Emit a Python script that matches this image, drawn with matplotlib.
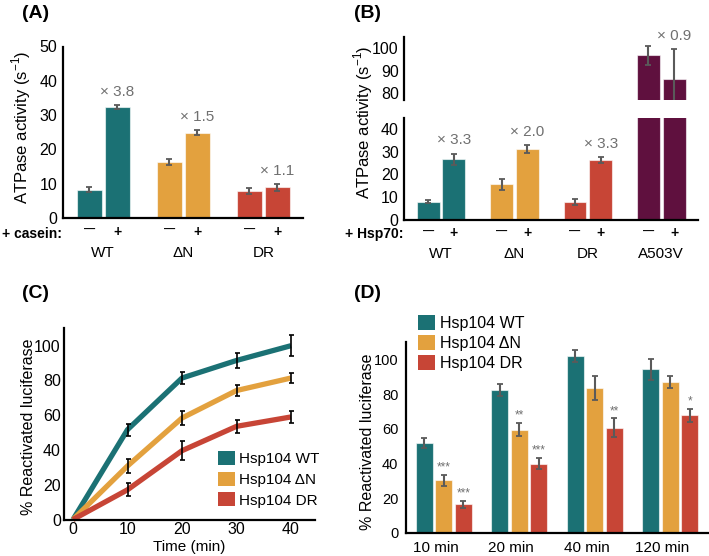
import matplotlib
matplotlib.use("Agg")
import matplotlib.pyplot as plt
from matplotlib.patches import Patch
import numpy as np

plt.rcParams['font.family'] = ['Liberation Sans', 'DejaVu Sans']
plt.rcParams['mathtext.fontset'] = 'custom'
plt.rcParams['mathtext.rm'] = 'Liberation Sans'

# ---------------- data ----------------
TEAL, ORANGE, RED, PURPLE = "#1B7174", "#E3A13E", "#C74536", "#5F103E"
ERR_GRAY = "#5a5a5a"
TXT_GRAY = "#707070"

A_groups = ["WT", "ΔN", "DR"]
A_minus = [8.3, 16.3, 7.8]
A_plus = [32.4, 24.9, 8.9]
A_minus_err = [0.7, 0.9, 0.9]
A_plus_err = [0.6, 0.8, 1.0]
A_fold = ["× 3.8", "× 1.5", "× 1.1"]
A_colors = [TEAL, ORANGE, RED]

B_groups = ["WT", "ΔN", "DR", "A503V"]
B_minus = [7.8, 15.5, 7.7, 96.7]
B_plus = [26.5, 31.2, 26.1, 86.4]
B_minus_err = [0.6, 2.5, 1.4, 4.1]
B_plus_err = [2.6, 1.8, 1.3, 13.2]
B_fold = ["× 3.3", "× 2.0", "× 3.3", "× 0.9"]
B_colors = [TEAL, ORANGE, RED, PURPLE]

C_time = [0, 10, 20, 30, 40]
C_wt = [0, 51.7, 81.4, 91.5, 100.0]
C_dn = [0, 30.8, 58.4, 74.2, 81.4]
C_dr = [0, 17.1, 39.6, 53.6, 59.0]
C_wt_err = [0, 3.5, 3.6, 4.3, 5.9]
C_dn_err = [0, 3.8, 4.2, 3.4, 3.1]
C_dr_err = [0, 3.8, 5.4, 3.7, 3.6]

series_labels = ["Hsp104 WT", "Hsp104 ΔN", "Hsp104 DR"]

D_labels = ["10 min", "20 min", "40 min", "120 min"]
D_wt = [51.8, 82.5, 102.3, 94.4]
D_dn = [30.3, 59.5, 83.5, 87.1]
D_dr = [16.6, 40.0, 60.8, 67.9]
D_wt_err = [2.9, 3.6, 3.4, 6.0]
D_dn_err = [3.1, 3.8, 7.0, 3.2]
D_dr_err = [1.9, 3.2, 5.3, 3.8]
D_dn_stars = ["***", "**", "", ""]
D_dr_stars = ["***", "***", "**", "*"]

# ---------------- figure ----------------
W, H = 709, 556
fig = plt.figure(figsize=(W / 100, H / 100), dpi=100)


def ax_px(left, right, top, bottom):
    return fig.add_axes([left / W, 1 - bottom / H, (right - left) / W, (bottom - top) / H])


def style(ax, pad=3, fs=11.5, bottom=True):
    for s in ["top", "right"]:
        ax.spines[s].set_visible(False)
    ax.spines["left"].set_linewidth(1.6)
    ax.spines["bottom"].set_linewidth(1.6)
    if not bottom:
        ax.spines["bottom"].set_visible(False)
    ax.tick_params(length=0, labelsize=fs, pad=pad)


def fig_text(x, y, s, **kw):
    fig.text(x / W, 1 - y / H, s, **kw)


BW = 0.31
OFF = 0.175
EDGE = (1, 1, 1, 0.6)


def pair_bars(ax, groups, minus, plus, merr, perr, colors):
    x = np.arange(len(groups))
    ax.bar(x - OFF, minus, BW, color=colors, edgecolor=EDGE, linewidth=0.8, zorder=2)
    ax.bar(x + OFF, plus, BW, color=colors, edgecolor=EDGE, linewidth=0.8, zorder=2)
    ax.errorbar(x - OFF, minus, yerr=merr, fmt="none", ecolor=ERR_GRAY, elinewidth=1.5,
                capsize=2, capthick=1.3, zorder=3)
    ax.errorbar(x + OFF, plus, yerr=perr, fmt="none", ecolor=ERR_GRAY, elinewidth=1.5,
                capsize=2, capthick=1.3, zorder=3)
    return x


def pm_ticks(ax, n):
    x = np.arange(n)
    pos = np.ravel(np.column_stack([x - OFF, x + OFF]))
    ax.set_xticks(pos)
    labs = ax.set_xticklabels(["—", "+"] * n, fontweight="bold", fontsize=10)
    for t in labs:
        if t.get_text() == "—":
            t.set_fontsize(8)
    ax.tick_params(axis="x", pad=5)


def group_labels(ax, groups, yoff):
    for i, g in enumerate(groups):
        ax.annotate(g, xy=(i, 0), xycoords=("data", "axes fraction"),
                    xytext=(0, -yoff), textcoords="offset points",
                    ha="center", va="center", fontsize=11, annotation_clip=False)


def fold_labels(ax, xs, tops, labels):
    for x, t, s in zip(xs, tops, labels):
        ax.annotate(s, xy=(x, t), xytext=(0, 9.5), textcoords="offset points",
                    ha="center", va="center", fontsize=11, color=TXT_GRAY)


# ---------------- Panel A ----------------
axA = ax_px(63.3, 303.3, 46.5, 218)
xA = pair_bars(axA, A_groups, A_minus, A_plus, A_minus_err, A_plus_err, A_colors)
axA.set_xlim(-0.5, 2.5)
axA.set_ylim(0, 50)
axA.set_yticks([0, 10, 20, 30, 40, 50])
style(axA, pad=4.5)
pm_ticks(axA, len(A_groups))
group_labels(axA, A_groups, 25.5)
fold_labels(axA, xA + OFF, np.array(A_plus) + np.array(A_plus_err), A_fold)
fig_text(62, 234, "+ casein:", ha="right", va="center", fontsize=10, fontweight="bold")
fig_text(21.7, 127, "ATPase activity (s$^{\\mathregular{-1}}$)", rotation=90,
         ha="center", va="center", fontsize=12)
fig_text(22, 14, "(A)", ha="left", va="center", fontsize=14, fontweight="bold")

# ---------------- Panel B (broken axis) ----------------
axBl = ax_px(404.3, 698, 118, 219.5)
axBu = ax_px(404.3, 698, 36.7, 100)
for ax in (axBl, axBu):
    pair_bars(ax, B_groups, B_minus, B_plus, B_minus_err, B_plus_err, B_colors)
    ax.set_xlim(-0.5, 3.5)
axBl.set_ylim(0, 44.8)
axBl.set_yticks([0, 10, 20, 30, 40])
axBu.set_ylim(77, 105)
axBu.set_yticks([80, 90, 100])
style(axBl, pad=4)
style(axBu, pad=4, bottom=False)
axBu.set_xticks([])
pm_ticks(axBl, len(B_groups))
group_labels(axBl, B_groups, 24.5)
xB = np.arange(len(B_groups))
B_tops = np.array(B_plus) + np.array(B_plus_err)
fold_labels(axBl, xB[:3] + OFF, B_tops[:3], B_fold[:3])
fold_labels(axBu, xB[3:] + OFF, B_tops[3:], B_fold[3:])
fig_text(403.5, 234, "+ Hsp70:", ha="right", va="center", fontsize=10, fontweight="bold")
fig_text(363, 122, "ATPase activity (s$^{\\mathregular{-1}}$)", rotation=90,
         ha="center", va="center", fontsize=12)
fig_text(354, 14, "(B)", ha="left", va="center", fontsize=14, fontweight="bold")

# ---------------- Panel C ----------------
axC = ax_px(64.3, 315, 328.3, 519.5)
for ys, es, c in [(C_wt, C_wt_err, TEAL), (C_dn, C_dn_err, ORANGE), (C_dr, C_dr_err, RED)]:
    axC.plot(C_time, ys, color=c, lw=3.8, solid_capstyle="butt", zorder=2, clip_on=False)
    axC.errorbar(C_time[1:], ys[1:], yerr=es[1:], fmt="none", ecolor="black",
                 elinewidth=1.2, capsize=1.8, capthick=1.2, zorder=3)
axC.set_xlim(-1.6, 44.4)
axC.set_ylim(0, 110)
axC.set_xticks([0, 10, 20, 30, 40])
axC.set_yticks([0, 20, 40, 60, 80, 100])
style(axC, pad=2.5)
axC.tick_params(axis="x", pad=1.5)
legC = axC.legend(handles=[Patch(facecolor=c, edgecolor="none", label=l)
                           for c, l in zip([TEAL, ORANGE, RED], series_labels)],
                  loc="upper left", bbox_to_anchor=(217.7 / W, 1 - 451 / H),
                  bbox_transform=fig.transFigure, frameon=False, fontsize=11,
                  handlelength=1.1, handleheight=1.05, handletextpad=0.3,
                  labelspacing=0.35, borderpad=0, borderaxespad=0)
fig_text(189.6, 546.7, "Time (min)", ha="center", va="center", fontsize=11)
fig_text(28.3, 427, "% Reactivated luciferase", rotation=90, ha="center", va="center",
         fontsize=11.5)
fig_text(22, 294, "(C)", ha="left", va="center", fontsize=14, fontweight="bold")

# ---------------- Panel D ----------------
axD = ax_px(406, 708, 342.3, 533)
xD = np.arange(len(D_labels))
DW, DS = 0.225, 0.26
for k, (vals, errs, c) in enumerate([(D_wt, D_wt_err, TEAL), (D_dn, D_dn_err, ORANGE),
                                     (D_dr, D_dr_err, RED)]):
    xs = xD + (k - 1) * DS
    axD.bar(xs, vals, DW, color=c, edgecolor=EDGE, linewidth=0.8, zorder=2)
    axD.errorbar(xs, vals, yerr=errs, fmt="none", ecolor=ERR_GRAY, elinewidth=1.5,
                 capsize=2, capthick=1.3, zorder=3)
for k, (vals, errs, stars) in enumerate([(D_dn, D_dn_err, D_dn_stars), (D_dr, D_dr_err, D_dr_stars)]):
    xs = xD + k * DS
    for x, v, e, s in zip(xs, vals, errs, stars):
        if s:
            axD.annotate(s, xy=(x, v + e), xytext=(0, 1), textcoords="offset points",
                         ha="center", va="bottom", fontsize=8.5, color=TXT_GRAY)
axD.set_xlim(-0.5, 3.5)
axD.set_ylim(0, 110)
axD.set_yticks([0, 20, 40, 60, 80, 100])
axD.set_xticks(xD - 0.11)
axD.set_xticklabels(D_labels)
style(axD, pad=5.5, fs=11)
axD.tick_params(axis="y", labelsize=10.5, pad=5.5)
legD = axD.legend(handles=[Patch(facecolor=c, edgecolor="none", label=l)
                           for c, l in zip([TEAL, ORANGE, RED], series_labels)],
                  loc="upper left", bbox_to_anchor=(418 / W, 1 - 315 / H),
                  bbox_transform=fig.transFigure, frameon=False, fontsize=11.5,
                  handlelength=1.05, handleheight=1.05, handletextpad=0.3,
                  labelspacing=0.25, borderpad=0, borderaxespad=0)
fig_text(367, 442, "% Reactivated luciferase", rotation=90, ha="center", va="center",
         fontsize=11.5)
fig_text(354, 294, "(D)", ha="left", va="center", fontsize=14, fontweight="bold")

fig.savefig("out.png", dpi=100)
